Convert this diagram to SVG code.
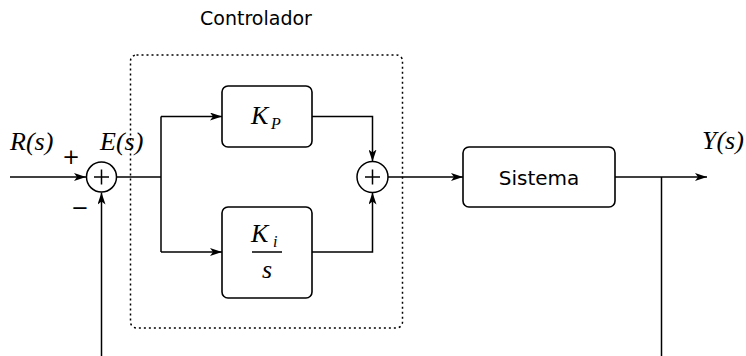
<svg xmlns="http://www.w3.org/2000/svg" width="746" height="356" viewBox="0 0 746 356">
<style>
.ln{fill:none;stroke:#000;stroke-width:1.5}
.bx{fill:#fff;stroke:#000;stroke-width:1.6}
.sum{fill:#fff;stroke:#000;stroke-width:1.5}
.math{font-family:"Liberation Serif",serif;font-style:italic;fill:#000}
.sans{font-family:"DejaVu Sans",sans-serif;fill:#000}
</style>
<defs>
<marker id="ar" viewBox="0 0 12 8" refX="12" refY="4" markerWidth="12" markerHeight="8" markerUnits="userSpaceOnUse" orient="auto">
<path d="M0,0 L12,4 L0,8 L3,4 Z" fill="#000"/>
</marker>
</defs>
<g id="connectors">
<line class="ln" x1="10" y1="177" x2="86" y2="177" marker-end="url(#ar)"/>
<line class="ln" x1="101.5" y1="356" x2="101.5" y2="192.5" marker-end="url(#ar)"/>
<polyline class="ln" points="117,177 161,177"/>
<polyline class="ln" points="161,116.5 161,252"/>
<line class="ln" x1="161" y1="116.5" x2="222" y2="116.5" marker-end="url(#ar)"/>
<line class="ln" x1="161" y1="252" x2="222" y2="252" marker-end="url(#ar)"/>
<polyline class="ln" points="312,116.5 372.5,116.5 372.5,161.5" marker-end="url(#ar)"/>
<polyline class="ln" points="312,252 372.5,252 372.5,192.5" marker-end="url(#ar)"/>
<line class="ln" x1="388" y1="177" x2="463" y2="177" marker-end="url(#ar)"/>
<line class="ln" x1="615" y1="177" x2="707" y2="177" marker-end="url(#ar)"/>
<line class="ln" x1="661.5" y1="177" x2="661.5" y2="356"/>
</g>
<g id="controlador">
<rect x="130.5" y="55" width="272" height="273" rx="6" fill="none" stroke="#000" stroke-width="1.5" stroke-dasharray="2,3"/>
<text class="sans" x="256" y="25" font-size="19" text-anchor="middle">Controlador</text>
</g>
<g id="sum1">
<circle class="sum" cx="101.5" cy="177" r="15"/>
<path class="ln" d="M94,177 H109 M101.5,169.5 V184.5"/>
<text class="sans" x="71" y="164" font-size="21" text-anchor="middle">+</text>
<text class="sans" x="80" y="215" font-size="21" text-anchor="middle">−</text>
</g>
<g id="kp">
<rect class="bx" x="222" y="86" width="90" height="61" rx="6"/>
<text class="math" x="251" y="124" font-size="26">K</text>
<text class="math" x="271" y="129" font-size="16">P</text>
</g>
<g id="ki">
<rect class="bx" x="222" y="207" width="90" height="91" rx="6"/>
<text class="math" x="251" y="242" font-size="26">K</text>
<text class="math" x="273" y="247" font-size="16">i</text>
<line x1="252" y1="252" x2="282" y2="252" stroke="#000" stroke-width="1.5"/>
<text class="math" x="267" y="278" font-size="26" text-anchor="middle">s</text>
</g>
<g id="sum2">
<circle class="sum" cx="372.5" cy="177" r="15.5"/>
<path class="ln" d="M365,177 H380 M372.5,169.5 V184.5"/>
</g>
<g id="sistema">
<rect class="bx" x="463" y="147" width="152" height="60" rx="6"/>
<text class="sans" x="539" y="185" font-size="20" text-anchor="middle">Sistema</text>
</g>
<g id="labels">
<text class="math" x="10" y="150" font-size="26">R(s)</text>
<text class="math" x="100" y="150" font-size="26">E(s)</text>
<text class="math" x="702" y="149" font-size="26">Y(s)</text>
</g>
</svg>
